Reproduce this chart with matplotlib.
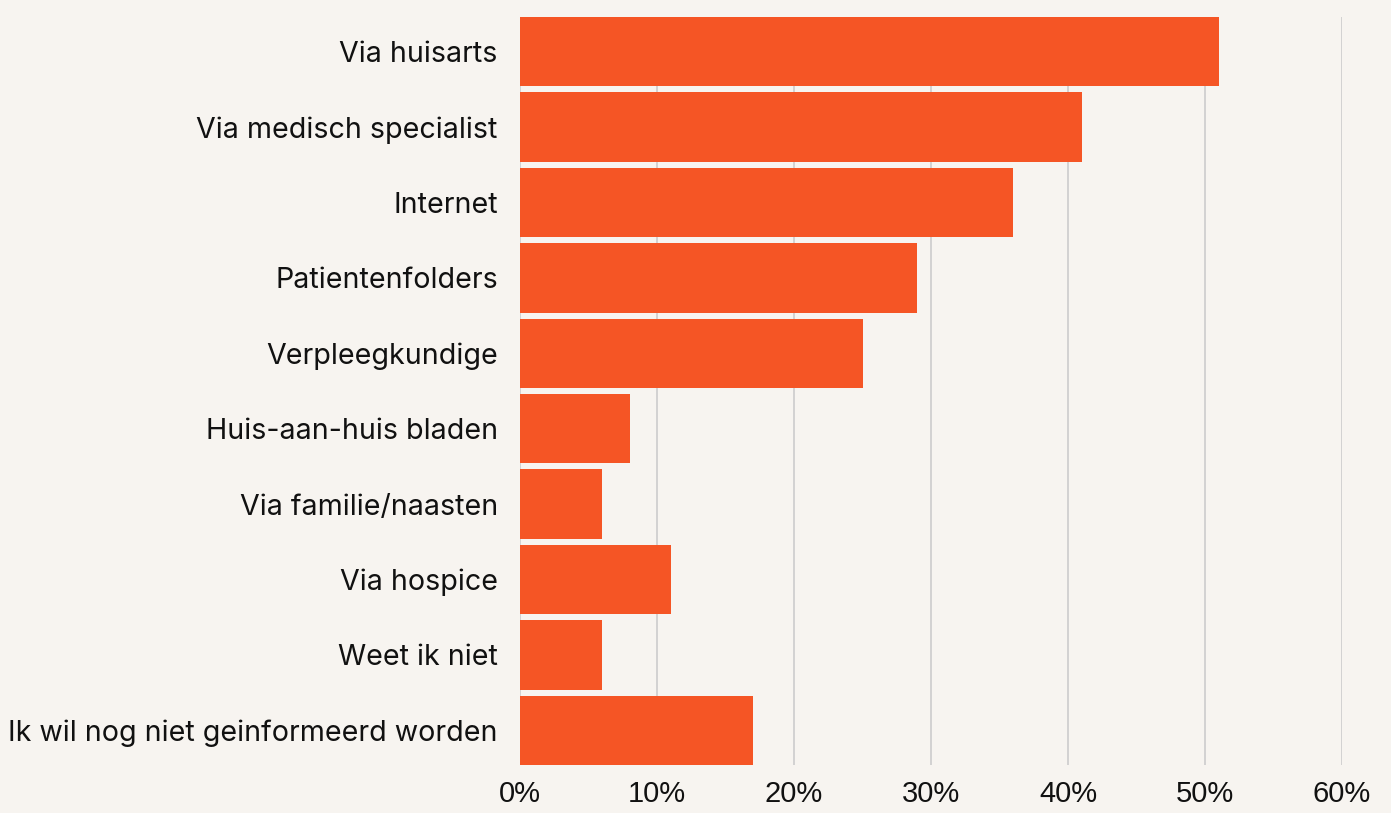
import matplotlib
matplotlib.use("Agg")
import matplotlib.pyplot as plt

categories = ["Via huisarts", "Via medisch specialist", "Internet", "Patientenfolders",
              "Verpleegkundige", "Huis-aan-huis bladen", "Via familie/naasten",
              "Via hospice", "Weet ik niet", "Ik wil nog niet geinformeerd worden"]
values = [51, 41, 36, 29, 25, 8, 6, 11, 6, 17]
xticks = [0, 10, 20, 30, 40, 50, 60]
xtick_labels = ["0%", "10%", "20%", "30%", "40%", "50%", "60%"]

BG = "#F7F4F0"
BAR = "#F55525"

fig = plt.figure(figsize=(13.91, 8.13), dpi=100, facecolor=BG)
ax = fig.add_axes([520 / 1391, 1 - 765 / 813, (1342 - 520) / 1391, (765 - 17) / 813])
ax.set_facecolor(BG)

ypos = list(range(len(categories)))
ax.barh(ypos, values, height=0.92, color=BAR, zorder=3)
ax.set_ylim(len(categories) - 0.54, -0.46)
ax.set_xlim(0, 60)

ax.set_xticks(xticks)
ax.set_xticklabels(xtick_labels, fontsize=21, family="Liberation Sans", color="#111111")
ax.set_yticks(ypos)
ax.set_yticklabels(categories, fontsize=20.6, family="Inter", color="#111111")
ax.tick_params(axis="both", length=0)
ax.tick_params(axis="x", pad=11)
ax.tick_params(axis="y", pad=16)

ax.grid(axis="x", color="#cccccc", linewidth=1.2, zorder=0)
for s in ax.spines.values():
    s.set_visible(False)

fig.savefig("out.png", dpi=100, facecolor=BG)
